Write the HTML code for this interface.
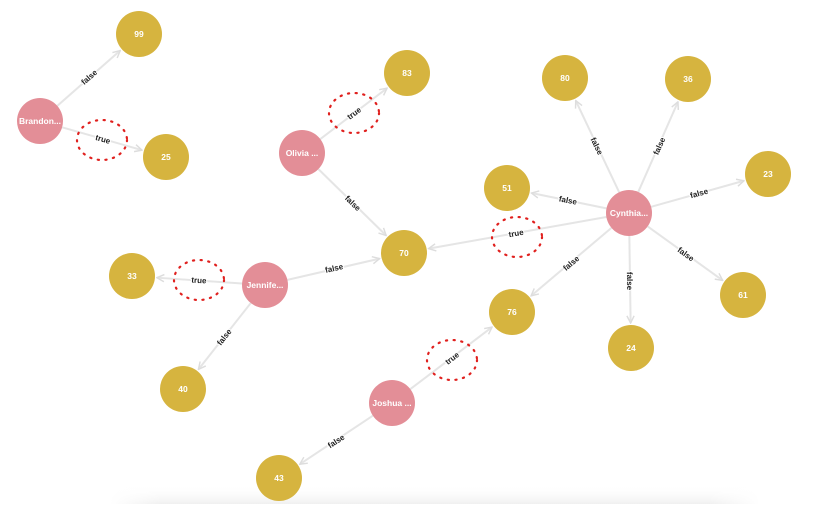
<!DOCTYPE html>
<html><head><meta charset="utf-8"><style>
html,body{margin:0;padding:0;background:#fff;width:814px;height:514px;overflow:hidden}
svg{display:block}
text{font-family:"Liberation Sans",sans-serif;font-weight:bold}
.lbl{font-size:8px;fill:#222;text-anchor:middle;stroke:#fff;stroke-width:2px;paint-order:stroke}
.nt{font-size:8.5px;fill:#fff;text-anchor:middle}
.ell{fill:none;stroke:#e0201e;stroke-width:2.2;stroke-dasharray:1.2 6.5;stroke-linecap:round}
</style></head><body>
<svg id="s" width="814" height="514" viewBox="0 0 814 514">
<defs>
<marker id="a" viewBox="0 0 10 10" refX="9" refY="5" markerWidth="9" markerHeight="9" markerUnits="userSpaceOnUse" orient="auto"><path d="M1,1 L9,5 L1,9" fill="none" stroke="#ddd" stroke-width="1.6"/></marker>
<linearGradient id="sh" x1="0" y1="0" x2="0" y2="1"><stop offset="0" stop-color="#fff" stop-opacity="0"/><stop offset="1" stop-color="#f0f0f0"/></linearGradient>
<linearGradient id="shx" x1="0" y1="0" x2="1" y2="0"><stop offset="0" stop-color="#fff"/><stop offset="0.08" stop-color="#fff" stop-opacity="0"/><stop offset="0.92" stop-color="#fff" stop-opacity="0"/><stop offset="1" stop-color="#fff"/></linearGradient>
</defs>
<rect x="110" y="485" width="650" height="19" fill="url(#sh)"/>
<rect x="110" y="485" width="650" height="19" fill="url(#shx)"/>
<g id="lines"></g>
<g id="labels">
<text class="lbl" transform="translate(89,77) rotate(-41.3)" dy="3">false</text>
<text class="lbl" transform="translate(103,139) rotate(16)" dy="3">true</text>
<text class="lbl" transform="translate(354,113) rotate(-36.8)" dy="3">true</text>
<text class="lbl" transform="translate(353,203) rotate(44)" dy="3">false</text>
<text class="lbl" transform="translate(597,146) rotate(63.6)" dy="3">false</text>
<text class="lbl" transform="translate(659,146) rotate(-66)" dy="3">false</text>
<text class="lbl" transform="translate(699,193) rotate(-15.8)" dy="3">false</text>
<text class="lbl" transform="translate(686,254) rotate(36.3)" dy="3">false</text>
<text class="lbl" transform="translate(630,281) rotate(89.6)" dy="3">false</text>
<text class="lbl" transform="translate(571,263) rotate(-40.6)" dy="3">false</text>
<text class="lbl" transform="translate(568,200) rotate(11)" dy="3">false</text>
<text class="lbl" transform="translate(516,233) rotate(-10.3)" dy="3">true</text>
<text class="lbl" transform="translate(334,268) rotate(-12.6)" dy="3">false</text>
<text class="lbl" transform="translate(199,280) rotate(3.4)" dy="3">true</text>
<text class="lbl" transform="translate(224,337) rotate(-52)" dy="3">false</text>
<text class="lbl" transform="translate(452,358) rotate(-37.4)" dy="3">true</text>
<text class="lbl" transform="translate(336,441) rotate(-33)" dy="3">false</text>
</g>
<g>
<ellipse class="ell" cx="102" cy="140" rx="25" ry="20"/>
<ellipse class="ell" cx="354" cy="113" rx="25" ry="20"/>
<ellipse class="ell" cx="517" cy="237" rx="25" ry="20"/>
<ellipse class="ell" cx="199" cy="280" rx="25" ry="20"/>
<ellipse class="ell" cx="452" cy="360" rx="25" ry="20"/>
</g>
<g id="nodes">
<circle cx="40" cy="121" r="23" fill="#e38e97"/><text class="nt" x="40" y="124">Brandon...</text>
<circle cx="139" cy="34" r="23" fill="#d6b43f"/><text class="nt" x="139" y="37">99</text>
<circle cx="166" cy="157" r="23" fill="#d6b43f"/><text class="nt" x="166" y="160">25</text>
<circle cx="407" cy="73" r="23" fill="#d6b43f"/><text class="nt" x="407" y="76">83</text>
<circle cx="302" cy="153" r="23" fill="#e38e97"/><text class="nt" x="302" y="156">Olivia ...</text>
<circle cx="404" cy="253" r="23" fill="#d6b43f"/><text class="nt" x="404" y="256">70</text>
<circle cx="565" cy="78" r="23" fill="#d6b43f"/><text class="nt" x="565" y="81">80</text>
<circle cx="688" cy="79" r="23" fill="#d6b43f"/><text class="nt" x="688" y="82">36</text>
<circle cx="629" cy="213" r="23" fill="#e38e97"/><text class="nt" x="629" y="216">Cynthia...</text>
<circle cx="507" cy="188" r="23" fill="#d6b43f"/><text class="nt" x="507" y="191">51</text>
<circle cx="768" cy="174" r="23" fill="#d6b43f"/><text class="nt" x="768" y="177">23</text>
<circle cx="743" cy="295" r="23" fill="#d6b43f"/><text class="nt" x="743" y="298">61</text>
<circle cx="631" cy="348" r="23" fill="#d6b43f"/><text class="nt" x="631" y="351">24</text>
<circle cx="512" cy="312" r="23" fill="#d6b43f"/><text class="nt" x="512" y="315">76</text>
<circle cx="132" cy="276" r="23" fill="#d6b43f"/><text class="nt" x="132" y="279">33</text>
<circle cx="265" cy="285" r="23" fill="#e38e97"/><text class="nt" x="265" y="288">Jennife...</text>
<circle cx="183" cy="389" r="23" fill="#d6b43f"/><text class="nt" x="183" y="392">40</text>
<circle cx="392" cy="403" r="23" fill="#e38e97"/><text class="nt" x="392" y="406">Joshua ...</text>
<circle cx="279" cy="478" r="23" fill="#d6b43f"/><text class="nt" x="279" y="481">43</text>
</g>
</svg>
<script>
var N={B:[40,121],n99:[139,34],n25:[166,157],n83:[407,73],O:[302,153],n70:[404,253],n80:[565,78],n36:[688,79],C:[629,213],n51:[507,188],n23:[768,174],n61:[743,295],n24:[631,348],n76:[512,312],n33:[132,276],J:[265,285],n40:[183,389],Jo:[392,403],n43:[279,478]};
var E=[["B","n99"],["B","n25"],["O","n83"],["O","n70"],["C","n80"],["C","n36"],["C","n23"],["C","n61"],["C","n24"],["C","n76"],["C","n51"],["C","n70"],["J","n70"],["J","n33"],["J","n40"],["Jo","n76"],["Jo","n43"]];
var g=document.getElementById("lines"),ns="http://www.w3.org/2000/svg";
E.forEach(function(e){var a=N[e[0]],b=N[e[1]],dx=b[0]-a[0],dy=b[1]-a[1],l=Math.hypot(dx,dy),ux=dx/l,uy=dy/l;
var L=document.createElementNS(ns,"line");
L.setAttribute("x1",a[0]+ux*23);L.setAttribute("y1",a[1]+uy*23);
L.setAttribute("x2",b[0]-ux*25);L.setAttribute("y2",b[1]-uy*25);
L.setAttribute("stroke","#e5e5e5");L.setAttribute("stroke-width","2");L.setAttribute("marker-end","url(#a)");g.appendChild(L);});
</script>
</body></html>
